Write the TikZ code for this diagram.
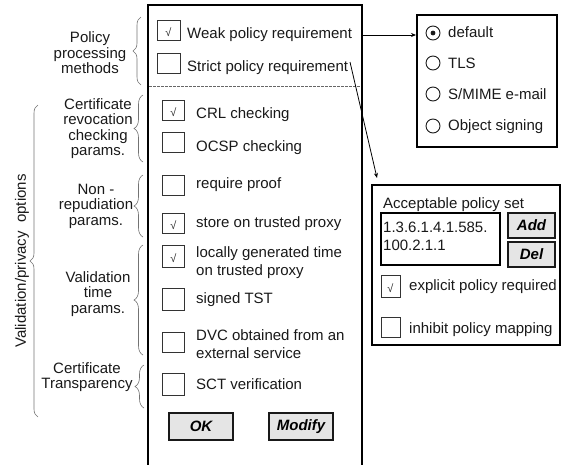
\documentclass[tikz,border=0pt]{standalone}
\usepackage{fontspec}
\setmainfont{Liberation Sans}
\usetikzlibrary{arrows.meta,decorations.pathreplacing,calc}

\tikzset{
  txt/.style={font=\fontsize{15}{16}\selectfont, text=black!90, inner sep=0pt, anchor=base west},
  grp/.style={font=\fontsize{15}{15.5}\selectfont, text=black!90, align=center, inner sep=0pt},
  cbox/.style={draw=black!80, line width=0.9pt, minimum width=22pt, minimum height=20pt, inner sep=0pt},
  ticked/.style={path picture={\node[font=\fontsize{11}{11}\selectfont, text=black!85, inner sep=0pt, anchor=north]
      at ([yshift=-2pt]path picture bounding box.north) {√};}},
  radio/.style={draw=black!90, line width=0.9pt, circle, minimum size=14pt, inner sep=0pt},
  btn/.style={draw=black!90, fill=black!10, line width=1.3pt, inner sep=0pt,
      font=\fontsize{15}{16}\selectfont\bfseries\itshape},
  panel/.style={draw=black, line width=2pt},
  grpbrace/.style={draw=black!55, line width=0.6pt, decorate, decoration={brace, amplitude=#1}},
  grpbrace/.default=8pt,
  arr/.style={draw=black, line width=0.8pt, -{Stealth[length=5pt,width=4pt]}}
}

\begin{document}
\begin{tikzpicture}[x=1pt, y=-1pt]
\useasboundingbox (0,0) rectangle (561,464);

% ---- main dialog (open at the bottom) ----
\draw[panel] (148,470) -- (148,5) -- (362,5) -- (362,470);
\draw[black!60, line width=0.6pt, dash pattern=on 2.5pt off 1.5pt] (149,86) -- (361,86);

% policy processing
\node[cbox, ticked, minimum width=23pt] (cbWeak) at (168.5,30) {};
\node[txt] (tWeak) at (187,38) {Weak policy requirement};
\node[cbox, minimum width=23pt] (cbStrict) at (168.5,63) {};
\node[txt] (tStrict) at (187,71) {Strict policy requirement};

% revocation checking
\node[cbox, ticked] (cbCRL) at (173.5,110) {};
\node[txt] (tCRL) at (196,118) {CRL checking};
\node[cbox] (cbOCSP) at (173.5,142) {};
\node[txt] (tOCSP) at (196,151) {OCSP checking};

% non-repudiation
\node[cbox] (cbProof) at (173.5,185) {};
\node[txt] (tProof) at (196,188) {require proof};
\node[cbox, ticked] (cbStore) at (173.5,223) {};
\node[txt] (tStore) at (196,227) {store on trusted proxy};

% validation time
\node[cbox, ticked, minimum height=22pt] (cbLocal) at (173.5,256) {};
\node[txt] (tLocal1) at (196,257) {locally generated time};
\node[txt] (tLocal2) at (196,275) {on trusted proxy};
\node[cbox, minimum height=22pt] (cbTST) at (173.5,299) {};
\node[txt] (tTST) at (196,303) {signed TST};
\node[cbox] (cbDVC) at (173.5,342) {};
\node[txt] (tDVC1) at (196,340) {DVC obtained from an};
\node[txt] (tDVC2) at (196,358) {external service};

% certificate transparency
\node[cbox, minimum height=22pt] (cbSCT) at (173.5,384) {};
\node[txt] (tSCT) at (196,389) {SCT verification};

% buttons
\node[btn, minimum width=64pt, minimum height=27pt] (bOK) at (201,426.5) {OK};
\node[btn, minimum width=64pt, minimum height=27pt] (bModify) at (301,426.5) {Modify};

% ---- group labels with braces ----
\draw[grpbrace] (141,85) -- (141,17);
\node[grp] (gPolicy) at (90,53) {Policy\\processing\\methods};

\draw[grpbrace=9pt] (143,162) -- (143,95);
\node[grp] (gRev) at (98,128.5) {Certificate\\revocation\\checking\\params.};

\draw[grpbrace=9pt] (143,237) -- (143,175);
\node[grp] (gNonRep) at (96,206) {Non -\\repudiation\\params.};

\draw[grpbrace=9pt] (143,355) -- (143,245);
\node[grp] (gTime) at (98,294) {Validation\\time\\params.};

\draw[grpbrace=9pt] (144,408) -- (144,365);
\node[grp] (gCT) at (87,377) {Certificate\\Transparency};

\draw[grpbrace] (38,417) -- (38,105);
\node[grp, rotate=90] (gAll) at (22,261) {Validation/privacy~~options};

% ---- policy type selector ----
\node[panel, minimum width=140pt, minimum height=132pt, inner sep=0pt] (radiobox) at (487,81) {};
\node[radio] (rDefault) at (433,33) {};
\fill[black!90] (rDefault.center) circle (2.4pt);
\node[txt] (tDefault) at (448,37) {default};
\node[radio] (rTLS) at (433,63) {};
\node[txt] (tTLS) at (448,68) {TLS};
\node[radio] (rSMIME) at (433,94) {};
\node[txt] (tSMIME) at (448,99) {S/MIME e-mail};
\node[radio] (rObj) at (433,126) {};
\node[txt] (tObj) at (448,130) {Object signing};

% ---- acceptable policy set ----
\node[panel, minimum width=188pt, minimum height=160pt, inner sep=0pt] (policybox) at (466,265) {};
\node[txt] (tAcc) at (383,208) {Acceptable policy set};
\node[draw=black, line width=1.8pt, minimum width=119pt, minimum height=52pt, inner sep=0pt] (oidfield) at (440.5,239) {};
\node[txt] (tOid1) at (383,232) {1.3.6.1.4.1.585.};
\node[txt] (tOid2) at (383,250) {100.2.1.1};
\node[btn, minimum width=47pt, minimum height=25pt] (bAdd) at (531.5,225.5) {Add};
\node[btn, minimum width=47pt, minimum height=25pt] (bDel) at (531.5,254.5) {Del};
\node[cbox, ticked, minimum width=19pt, minimum height=22pt] (cbExpl) at (390.5,286) {};
\node[txt] (tExpl) at (409,290) {explicit policy required};
\node[cbox, minimum width=19pt, minimum height=20pt] (cbInh) at (390.5,327) {};
\node[txt] (tInh) at (409,333) {inhibit policy mapping};

% ---- connectors ----
\coordinate (weakOut) at (362,35);
\draw[arr] (weakOut) -- (weakOut -| radiobox.west);
\coordinate (strictOut) at (350,62);
\coordinate (policyIn) at (377,178);
\draw[arr] (strictOut) -- (policyIn);
\end{tikzpicture}
\end{document}
